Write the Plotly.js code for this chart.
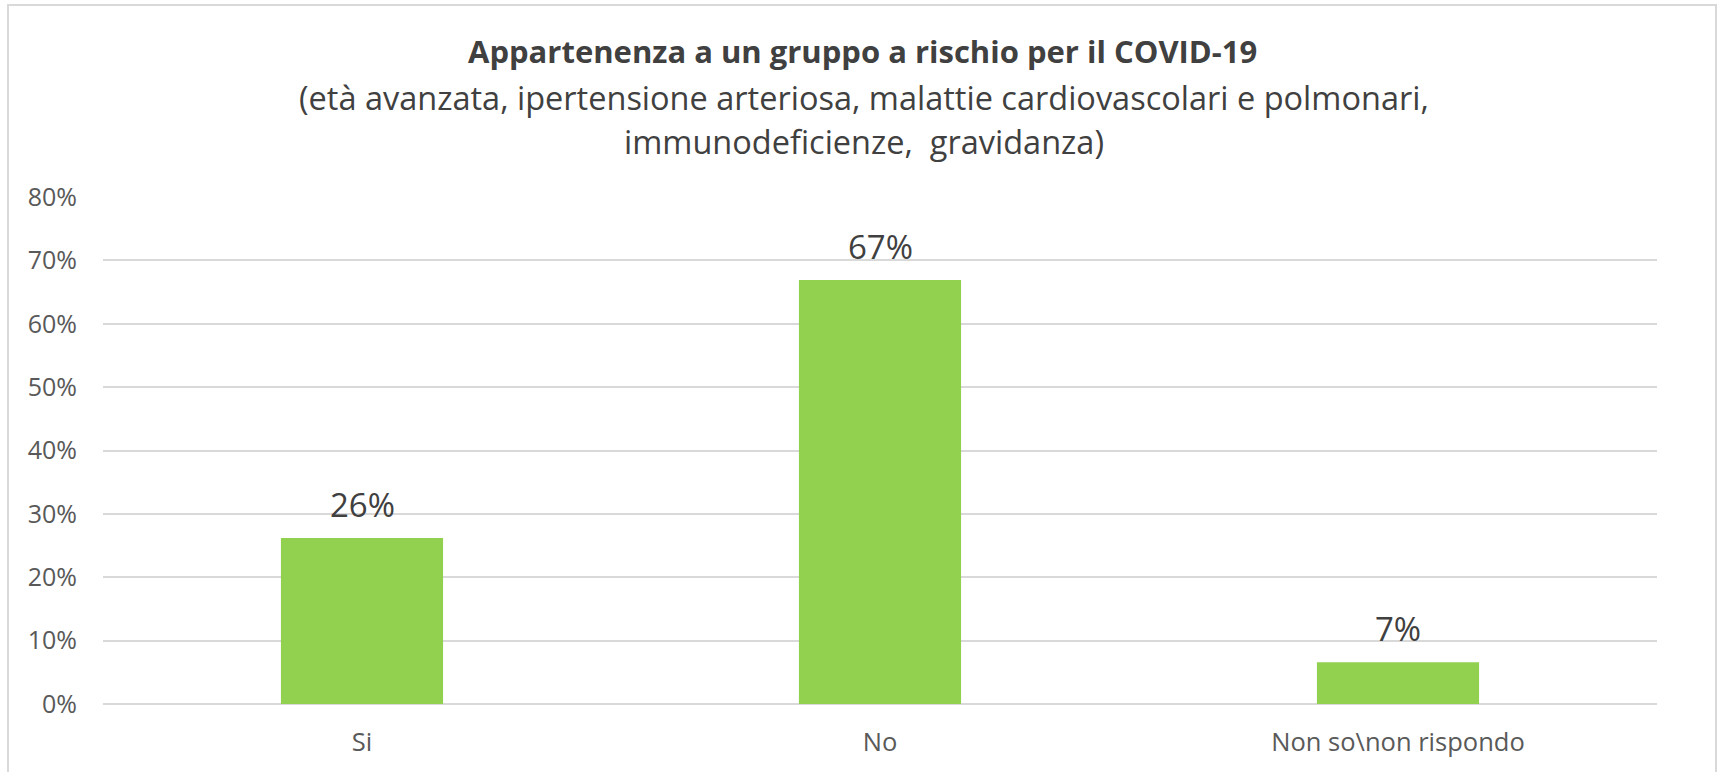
<!DOCTYPE html>
<html>
<head>
<meta charset="utf-8">
<script src="https://cdn.plot.ly/plotly-3.0.1.min.js"></script>
<style>
html,body{margin:0;padding:0;background:#fff;}
#chart{width:1719px;height:772px;}
</style>
</head>
<body>
<div id="chart"></div>
<script>
const categories = ["Si", "No", "Non so\\non rispondo"];
const values = [0.262, 0.669, 0.066];
const valueLabels = ["26%", "67%", "7%"];
const yTickVals = [0, 0.1, 0.2, 0.3, 0.4, 0.5, 0.6, 0.7, 0.8];
const yTickText = ["0%", "10%", "20%", "30%", "40%", "50%", "60%", "70%", "80%"];
const titleText = "Appartenenza a un gruppo a rischio per il COVID-19";
const subtitleLines = ["(età avanzata, ipertensione arteriosa, malattie cardiovascolari e polmonari,", "immunodeficienze,  gravidanza)"];

const FONT = "Open Sans, sans-serif";
const W = 1719, H = 772;
const mL = 103, mR = 62, mT = 197, mB = 68;
const plotW = W - mL - mR, plotH = H - mT - mB;
const px2x = p => (p - mL) / plotW;
const px2y = p => (H - mB - p) / plotH;

const trace = {
  type: "bar",
  x: categories,
  y: values,
  marker: {color: "#92D050"},
  hoverinfo: "x+y"
};

const annotations = [];
annotations.push({
  xref: "paper", yref: "paper", x: px2x(862), y: px2y(51),
  xanchor: "center", yanchor: "middle", showarrow: false,
  text: "<b>" + titleText + "</b>",
  font: {family: FONT, size: 31, color: "#404040"}
});
const subY = [98, 142];
subtitleLines.forEach((t, i) => annotations.push({
  xref: "paper", yref: "paper", x: px2x(864), y: px2y(subY[i]),
  xanchor: "center", yanchor: "middle", showarrow: false,
  text: t,
  font: {family: FONT, size: 32.5, color: "#404040"}
}));
categories.forEach((c, i) => annotations.push({
  x: c, y: values[i], xref: "x", yref: "y",
  xanchor: "center", yanchor: "bottom", yshift: 9, showarrow: false,
  text: valueLabels[i],
  font: {family: FONT, size: 33, color: "#404040"}
}));

const layout = {
  width: W, height: H,
  margin: {l: mL, r: mR, t: mT, b: mB, pad: 0},
  paper_bgcolor: "#ffffff", plot_bgcolor: "#ffffff",
  showlegend: false,
  bargap: 0.687,
  font: {family: FONT, color: "#595959"},
  xaxis: {
    type: "category",
    showgrid: false, zeroline: false, showline: false,
    ticks: "", tickfont: {family: FONT, size: 25.5, color: "#595959"},
    ticklabelstandoff: 20
  },
  yaxis: {
    range: [0, 0.8], tickvals: yTickVals, ticktext: yTickText,
    showgrid: true, gridcolor: "#D9D9D9", gridwidth: 2,
    zeroline: true, zerolinecolor: "#D9D9D9", zerolinewidth: 2,
    showline: false, ticks: "",
    tickfont: {family: FONT, size: 25, color: "#595959"},
    ticklabelstandoff: 25
  },
  annotations: annotations,
  shapes: [{
    type: "rect", xref: "paper", yref: "paper",
    x0: px2x(8), x1: px2x(1716), y0: px2y(790), y1: px2y(5),
    line: {color: "#D9D9D9", width: 2}, fillcolor: "rgba(0,0,0,0)", layer: "below"
  }]
};

Plotly.newPlot("chart", [trace], layout, {displayModeBar: false, staticPlot: true});
</script>
</body>
</html>
